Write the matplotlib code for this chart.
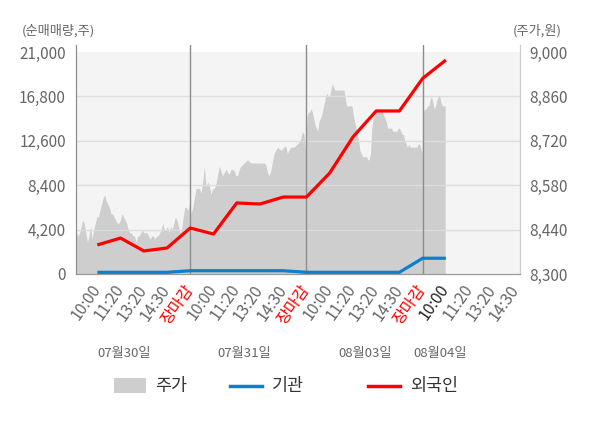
import numpy as np
import matplotlib
matplotlib.use('Agg')
import matplotlib.pyplot as plt
from matplotlib.patches import Rectangle
from matplotlib.lines import Line2D
import matplotlib.transforms as mtrans

plt.rcParams['font.family'] = ['Noto Sans CJK KR', 'DejaVu Sans']

# ---------------- data ----------------
dates = ['07월30일', '07월31일', '08월03일', '08월04일']
time_labels = ['10:00', '11:20', '13:20', '14:30', '장마감']

price_day1 = [8370, 8430, 8420, 8430, 8450, 8470, 8460, 8430, 8400, 8420, 8450, 8410,
              8440, 8460, 8480, 8480, 8500, 8520, 8540, 8550, 8530, 8520, 8510, 8490,
              8490, 8480, 8470, 8460, 8460, 8470, 8490, 8480, 8470, 8460, 8440, 8430,
              8430, 8420, 8420, 8400, 8420, 8420, 8430, 8440, 8430, 8430, 8430, 8420,
              8410, 8420, 8420, 8410, 8420, 8420, 8430, 8440, 8460, 8440, 8440, 8450,
              8430, 8450, 8440, 8460, 8480, 8470, 8450, 8430, 8440, 8480, 8510, 8510,
              8500, 8520]
price_day2 = [8490, 8510, 8540, 8570, 8570, 8570, 8555, 8590, 8640, 8575, 8590, 8580,
              8550, 8570, 8570, 8585, 8615, 8640, 8625, 8610, 8620, 8630, 8620, 8615,
              8630, 8630, 8625, 8610, 8610, 8630, 8640, 8645, 8650, 8655, 8660, 8655,
              8650, 8650, 8650, 8650, 8650, 8650, 8650, 8650, 8650, 8645, 8620, 8610,
              8625, 8655, 8680, 8690, 8700, 8695, 8690, 8695, 8700, 8705, 8680, 8690,
              8700, 8700, 8700, 8705, 8710, 8715, 8725, 8750, 8740, 8690]
price_day3 = [8800, 8810, 8810, 8820, 8810, 8790, 8770, 8760, 8750, 8780, 8790, 8800,
              8820, 8840, 8860, 8870, 8860, 8860, 8880, 8900, 8890, 8880, 8880, 8880,
              8880, 8880, 8880, 8880, 8880, 8850, 8830, 8830, 8830, 8830, 8830, 8800,
              8780, 8760, 8740, 8720, 8690, 8680, 8670, 8670, 8670, 8670, 8660, 8660,
              8680, 8760, 8790, 8800, 8810, 8820, 8820, 8820, 8820, 8810, 8800, 8790,
              8780, 8760, 8760, 8760, 8760, 8750, 8750, 8750, 8750, 8760, 8760, 8750,
              8740, 8740, 8720, 8710, 8700, 8710, 8700, 8700, 8700, 8700, 8700, 8700,
              8710, 8710, 8700, 8680]
price_day4 = [8810, 8820, 8820, 8830, 8830, 8850, 8860, 8840, 8820, 8830, 8850, 8860,
              8860, 8840, 8830, 8830, 8830]
price_days = [price_day1, price_day2, price_day3, price_day4]
price_span = [5, 5, 5, 1]   # session slots covered by each day's price data

foreign = [2750, 3400, 2180, 2460, 4350, 3780, 6720, 6620, 7280, 7280,
           9550, 12960, 15420, 15420, 18500, 20240]
institution = [160, 160, 160, 160, 310, 310, 310, 310, 310, 160,
               160, 160, 160, 160, 1490, 1490]

vol_ticks = [0, 4200, 8400, 12600, 16800, 21000]
price_ticks = [8300, 8440, 8580, 8720, 8860, 9000]

# ---------------- figure ----------------
W, H = 600, 428
fig = plt.figure(figsize=(W / 100, H / 100), dpi=100)
L, R, T, B = 75.7, 520, 45, 274
ax = fig.add_axes([L / W, 1 - B / H, (R - L) / W, (B - T) / H])   # price axis (right ticks)
ax2 = ax.twinx()                                                   # volume axis (left ticks)

frac = (B - T) / (B - 52)
ax.set_ylim(price_ticks[0], price_ticks[0] + (price_ticks[-1] - price_ticks[0]) * frac)
ax2.set_ylim(0, vol_ticks[-1] * frac)
ax.set_xlim(0.07, 19.19)

ax.axhspan(price_ticks[0], price_ticks[-1], color='#f4f4f4', lw=0, zorder=0)

xs, ys = [], []
for d, (vals, span) in enumerate(zip(price_days, price_span)):
    n = len(vals)
    xs.extend(5 * d + (np.arange(n) + 0.5) * span / n)
    ys.extend(vals)
ax.fill_between(xs, price_ticks[0], ys, color='#cecece', lw=0, zorder=1)

# gridlines
for p in price_ticks[1:-1]:
    ax.axhline(p, color='#dddddd', lw=1, zorder=2)

# day separators
for xd in [5, 10, 15]:
    ax.axvline(xd, color='#8c8c8c', lw=1, zorder=3)

x_flow = np.arange(1, len(foreign) + 1)
ax2.plot(x_flow, institution, color='#0b80cf', lw=2.3, zorder=4, solid_capstyle='butt')
ax2.plot(x_flow, foreign, color='#ff0000', lw=2.3, zorder=5, solid_capstyle='butt')

# y axes
ax.yaxis.tick_right()
ax.set_yticks(price_ticks)
ax.set_yticklabels([f'{v:,}' for v in price_ticks])
ax2.yaxis.tick_left()
ax2.set_yticks(vol_ticks)
ax2.set_yticklabels([f'{v:,}' for v in vol_ticks])
for a in (ax, ax2):
    a.tick_params(axis='y', length=0, labelsize=11, labelcolor='#666666', pad=7)

# x axis
tick_pos, tick_lab = [], []
for d in range(4):
    for k, lab in enumerate(time_labels):
        pos = 5 * d + k + 1
        if pos <= 19:
            tick_pos.append(pos)
            tick_lab.append(lab)
ax.set_xticks(tick_pos)
ax.set_xticklabels(tick_lab)
ax.set_xticks([5, 10, 15], minor=True)
ax.tick_params(axis='x', which='major', length=0, labelsize=11.5, labelcolor='#666666', pad=9)
ax.tick_params(axis='x', which='minor', length=5, width=1, color='#8c8c8c')
ax2.tick_params(axis='x', length=0)
for lbl, lab, pos in zip(ax.get_xticklabels(), tick_lab, tick_pos):
    lbl.set_rotation(55)
    lbl.set_ha('right')
    lbl.set_va('center')
    lbl.set_rotation_mode('anchor')
    if lab == '장마감':
        lbl.set_color('#ff0000')
    elif pos == 16:
        lbl.set_color('#222222')

for a in (ax, ax2):
    a.spines['top'].set_visible(False)
    a.spines['left'].set_color('#8c8c8c')
    a.spines['right'].set_color('#cccccc')
    a.spines['bottom'].set_color('#999999')
ax.patch.set_facecolor('white')

# date labels
tr = mtrans.blended_transform_factory(ax.transData, fig.transFigure)
for xp, dt in zip([2.15, 7.31, 12.52, 15.75], dates):
    ax.text(xp, 1 - 353 / H, dt, transform=tr, ha='center', va='center',
            fontsize=9.5, color='#666666')

# axis titles
fig.text(22 / W, 1 - 31 / H, '(순매매량,주)', ha='left', va='center', fontsize=9.5, color='#666666')
fig.text(562 / W, 1 - 31 / H, '(주가,원)', ha='right', va='center', fontsize=9.5, color='#666666')

# legend (manual)
ly = 1 - 385.5 / H
fig.add_artist(Rectangle((114 / W, 1 - 393 / H), 32 / W, 15 / H, transform=fig.transFigure,
                         facecolor='#cecece', edgecolor='none'))
fig.add_artist(Line2D([230 / W, 262 / W], [ly, ly], transform=fig.transFigure,
                      color='#0b80cf', lw=2.5))
fig.add_artist(Line2D([368 / W, 400 / W], [ly, ly], transform=fig.transFigure,
                      color='#ff0000', lw=2.5))
for xt, t in zip([155, 272, 410], ['주가', '기관', '외국인']):
    fig.text(xt / W, ly, t, ha='left', va='center', fontsize=12.5, color='#333333')

fig.savefig('out.png', dpi=100)
